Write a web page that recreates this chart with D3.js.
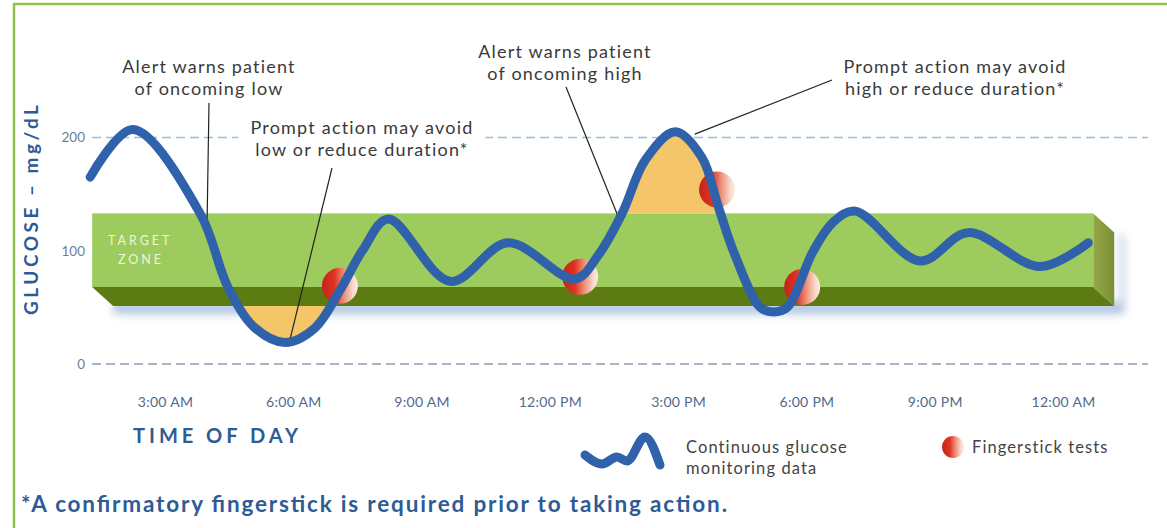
<!DOCTYPE html>
<html>
<head>
<meta charset="utf-8">
<script src="https://cdn.jsdelivr.net/npm/d3@7"></script>
<style>
  body { margin: 0; background: #fff; }
  svg { display: block; font-family: Lato, "Open Sans", sans-serif; }
</style>
</head>
<body>
<svg id="chart" width="1167" height="528"></svg>
<script>
// time is in hours since midnight (24 = 12:00 AM next day), glucose in mg/dL
var cgmHours = [1.25, 2.25, 3.82, 4.47, 5.10, 5.81, 6.51, 7.09, 7.63, 8.22, 9.67, 11.02, 12.59,
  13.13, 13.69, 14.23, 14.93, 15.56, 15.93, 16.33, 16.92, 17.22, 17.55, 18.15, 18.62, 19.14, 20.66, 21.78, 23.46, 24.59];
var cgmValues = [165, 207, 133, 68, 32, 19, 32, 65, 101, 128, 73, 107, 75,
  96, 133, 180, 205, 182, 140, 96, 50, 46, 50, 99, 125, 135, 91, 116, 86, 107];

var fingerHours = [7.09, 12.71, 15.91, 17.90];
var fingerValues = [69, 77, 154, 68];

var tickHours = [3, 6, 9, 12, 15, 18, 21, 24];
var tickLabels = ["3:00 AM", "6:00 AM", "9:00 AM", "12:00 PM", "3:00 PM", "6:00 PM", "9:00 PM", "12:00 AM"];
var yTicks = [0, 100, 200];
var gridValues = [0, 200];

var targetZone = [68, 133];       // low, high
var lowEvent = [4.3, 7.3];        // hours shaded below the zone
var highEvent = [13.3, 16.6];     // hours shaded above the zone

var noteLines = [
  ["Alert warns patient", "of oncoming low"],
  ["Prompt action may avoid", "low or reduce duration*"],
  ["Alert warns patient", "of oncoming high"],
  ["Prompt action may avoid", "high or reduce duration*"]
];
var noteHours = [3.98, 5.92, 13.62, 15.39];
var noteValues = [116, 21, 128, 203];

// layout only
var noteLayout = [
  { x: 209, y: 73, fx: 209, fy: 103 },
  { x: 362, y: 134, fx: 332, fy: 168, knockout: true },
  { x: 565, y: 58, fx: 566, fy: 87 },
  { x: 955, y: 73, fx: 832, fy: 80 }
];

var blue = "#2f62aa", titleBlue = "#2d5b95";

var svg = d3.select("#chart");

var x = d3.scaleLinear().domain([3, 24]).range([165, 1063]);
var y = d3.scaleLinear().domain([0, 200]).range([364, 137.5]);

var cgm = cgmHours.map(function(h, i) { return { h: h, v: cgmValues[i] }; });
var smooth = d3.curveCatmullRom.alpha(0.5);

var defs = svg.append("defs");

var grad = defs.append("linearGradient").attr("id", "stick")
    .attr("x1", 0).attr("x2", 1).attr("y1", 0).attr("y2", 0);
[["0", "#c4241a"], ["0.35", "#de3322"], ["0.6", "#ee8a72"], ["0.85", "#f8d5c6"], ["1", "#fdeee6"]]
  .forEach(function(s) { grad.append("stop").attr("offset", s[0]).attr("stop-color", s[1]); });

var rgrad = defs.append("linearGradient").attr("id", "sideFace")
    .attr("x1", 0).attr("x2", 1).attr("y1", 0).attr("y2", 0);
rgrad.append("stop").attr("offset", 0).attr("stop-color", "#95a74a");
rgrad.append("stop").attr("offset", 1).attr("stop-color", "#7d8f35");

defs.append("filter").attr("id", "blur").attr("x", -0.2).attr("y", -0.5).attr("width", 1.4).attr("height", 2)
  .append("feGaussianBlur").attr("stdDeviation", 4);

// frame
svg.append("line").attr("x1", 14).attr("x2", 1167).attr("y1", 4).attr("y2", 4)
    .attr("stroke", "#8cc152").attr("stroke-width", 2.5);
svg.append("line").attr("x1", 14).attr("x2", 14).attr("y1", 3).attr("y2", 528)
    .attr("stroke", "#8cc152").attr("stroke-width", 2.5);

// grid lines at 0 and 200
svg.selectAll(".grid").data(gridValues).enter().append("line")
    .attr("class", "grid")
    .attr("x1", 92).attr("x2", 1148)
    .attr("y1", function(d) { return y(d); })
    .attr("y2", function(d) { return y(d); })
    .attr("stroke", function(d) { return d === 0 ? "#8c9db3" : "#8ec3e4"; })
    .attr("stroke-width", 1.5)
    .attr("stroke-dasharray", "9,5");

// y axis labels
var yAxis = svg.append("g").attr("transform", "translate(85,0)")
    .call(d3.axisLeft(y).tickValues(yTicks).tickSize(0).tickPadding(0).tickFormat(d3.format("d")));
yAxis.select(".domain").remove();
yAxis.selectAll("text").attr("fill", "#6b7f9b").style("font-size", "13.5px").style("font-family", "Lato, sans-serif");

// x axis labels
var xAxis = svg.append("g").attr("transform", "translate(0,397)")
    .call(d3.axisBottom(x).tickValues(tickHours).tickSize(0).tickPadding(0)
      .tickFormat(function(d, i) { return tickLabels[i]; }));
xAxis.select(".domain").remove();
xAxis.selectAll("text").attr("fill", "#4f6a8f").style("font-size", "14px").style("letter-spacing", "0.3px")
    .style("font-family", "Lato, sans-serif");

// axis titles
svg.append("text")
    .attr("transform", "translate(38,210) rotate(-90)")
    .attr("text-anchor", "middle")
    .attr("fill", titleBlue)
    .attr("textLength", 210).attr("lengthAdjust", "spacing")
    .style("font-size", "19px").style("font-weight", "bold")
    .text("GLUCOSE – mg/dL");

svg.append("text")
    .attr("x", 133).attr("y", 443)
    .attr("fill", titleBlue)
    .attr("textLength", 165).attr("lengthAdjust", "spacing")
    .style("font-size", "20px").style("font-weight", "bold")
    .text("TIME OF DAY");

// target zone (3D slab)
var zx0 = x(cgmHours[0]) + 2, zx1 = x(cgmHours[cgmHours.length - 1]) + 5;
var zt = y(targetZone[1]), zb = y(targetZone[0]);
var ddx = 21, ddy = 19;

svg.append("path")
    .attr("d", "M" + (zx0 + ddx) + "," + (zb + ddy - 4) + "L" + (zx1 + ddx + 6) + "," + (zb + ddy - 4) +
      "L" + (zx1 + ddx + 6) + "," + (zt + ddy) + "L" + (zx1 + ddx + 10) + "," + (zt + ddy + 4) +
      "L" + (zx1 + ddx + 10) + "," + (zb + ddy + 8) + "L" + (zx0 + ddx) + "," + (zb + ddy + 8) + "Z")
    .attr("fill", "#6f95c4").attr("opacity", 0.55).attr("filter", "url(#blur)");

svg.append("path")
    .attr("d", "M" + zx0 + "," + zb + "L" + zx1 + "," + zb + "L" + (zx1 + ddx) + "," + (zb + ddy) +
      "L" + (zx0 + ddx) + "," + (zb + ddy) + "Z")
    .attr("fill", "#5c7b12");
svg.append("path")
    .attr("d", "M" + zx1 + "," + zt + "L" + (zx1 + ddx) + "," + (zt + ddy) + "L" + (zx1 + ddx) + "," + (zb + ddy) +
      "L" + zx1 + "," + zb + "Z")
    .attr("fill", "url(#sideFace)");
svg.append("rect")
    .attr("x", zx0).attr("y", zt).attr("width", zx1 - zx0).attr("height", zb - zt)
    .attr("fill", "#9dcb5e");

svg.append("text")
    .attr("y", 245)
    .attr("fill", "#eef5dc")
    .style("font-size", "12.5px").style("letter-spacing", "3px")
    .selectAll("tspan").data(["TARGET", "ZONE"]).enter().append("tspan")
    .attr("x", function(d, i) { return i === 0 ? 108 : 118; })
    .attr("dy", function(d, i) { return i === 0 ? 0 : 19; })
    .text(function(d) { return d; });

// shaded excursions
var lowEdge = zb + ddy;
defs.append("clipPath").attr("id", "clipLow").append("rect")
    .attr("x", x(lowEvent[0])).attr("width", x(lowEvent[1]) - x(lowEvent[0]))
    .attr("y", lowEdge).attr("height", 100);
defs.append("clipPath").attr("id", "clipHigh").append("rect")
    .attr("x", x(highEvent[0])).attr("width", x(highEvent[1]) - x(highEvent[0]))
    .attr("y", 0).attr("height", zt);

svg.append("path").datum(cgm)
    .attr("clip-path", "url(#clipLow)")
    .attr("fill", "#f5c56a")
    .attr("d", d3.area().curve(smooth)
      .x(function(d) { return x(d.h); }).y0(lowEdge).y1(function(d) { return y(d.v); }));
svg.append("path").datum(cgm)
    .attr("clip-path", "url(#clipHigh)")
    .attr("fill", "#f5c56a")
    .attr("d", d3.area().curve(smooth)
      .x(function(d) { return x(d.h); }).y0(zt).y1(function(d) { return y(d.v); }));

// annotations
noteLines.forEach(function(lines, i) {
  var L = noteLayout[i];
  var g = svg.append("g");
  var t = g.append("text")
      .attr("text-anchor", "middle")
      .attr("fill", "#3a3a3a")
      .style("font-size", "18px").style("letter-spacing", "1.2px");
  t.selectAll("tspan").data(lines).enter().append("tspan")
      .attr("x", L.x).attr("y", function(d, j) { return L.y + j * 22; })
      .text(function(d) { return d; });
  if (L.knockout) {
    var bb = t.node().getBBox();
    g.insert("rect", "text")
        .attr("x", bb.x - 12).attr("y", bb.y).attr("width", bb.width + 24).attr("height", bb.height)
        .attr("fill", "#fff");
  }
  svg.append("line")
      .attr("x1", L.fx).attr("y1", L.fy)
      .attr("x2", x(noteHours[i])).attr("y2", y(noteValues[i]))
      .attr("stroke", "#222").attr("stroke-width", 1.2);
});

// fingerstick tests
svg.selectAll(".stick").data(fingerHours).enter().append("circle")
    .attr("class", "stick")
    .attr("cx", function(d) { return x(d); })
    .attr("cy", function(d, i) { return y(fingerValues[i]); })
    .attr("r", 18)
    .attr("fill", "url(#stick)");

// CGM trace
svg.append("path").datum(cgm)
    .attr("fill", "none")
    .attr("stroke", blue)
    .attr("stroke-width", 9)
    .attr("stroke-linecap", "round")
    .attr("d", d3.line().curve(smooth)
      .x(function(d) { return x(d.h); }).y(function(d) { return y(d.v); }));

// legend
var wave = [[0, 18], [17, 27], [32, 20], [42, 24], [60, 0], [75, 28]];
svg.append("path").datum(wave)
    .attr("transform", "translate(585,437)")
    .attr("fill", "none").attr("stroke", blue).attr("stroke-width", 9).attr("stroke-linecap", "round")
    .attr("d", d3.line().curve(d3.curveMonotoneX));
svg.append("text")
    .attr("fill", "#444").style("font-size", "16.5px").style("letter-spacing", "1.1px")
    .selectAll("tspan").data(["Continuous glucose", "monitoring data"]).enter().append("tspan")
    .attr("x", 686).attr("y", function(d, i) { return 453 + i * 21; })
    .text(function(d) { return d; });
svg.append("circle").attr("cx", 953).attr("cy", 447).attr("r", 11).attr("fill", "url(#stick)");
svg.append("text")
    .attr("x", 972).attr("y", 453)
    .attr("fill", "#444").style("font-size", "16.5px").style("letter-spacing", "1.1px")
    .text("Fingerstick tests");

// footnote
svg.append("text")
    .attr("x", 21).attr("y", 512)
    .attr("fill", titleBlue)
    .attr("textLength", 706).attr("lengthAdjust", "spacing")
    .style("font-size", "22.5px").style("font-weight", "bold")
    .text("*A confirmatory fingerstick is required prior to taking action.");
</script>
</body>
</html>
